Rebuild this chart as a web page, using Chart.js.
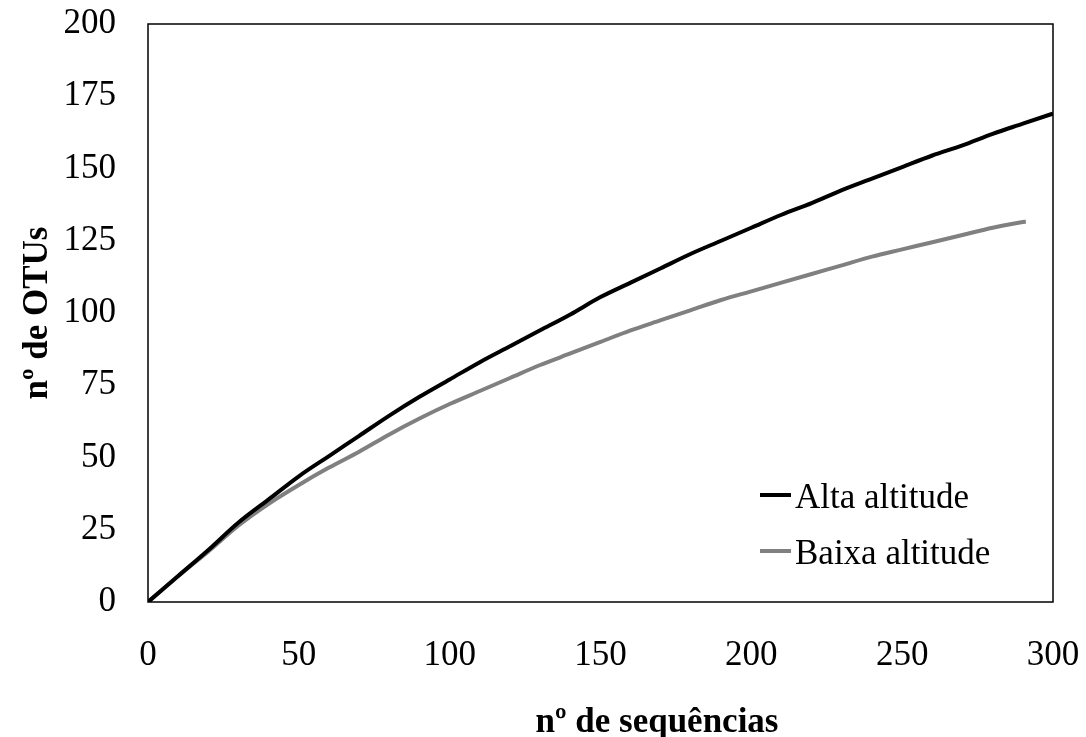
<!DOCTYPE html>
<html>
<head>
<meta charset="utf-8">
<script src="https://cdn.jsdelivr.net/npm/chart.js@4/dist/chart.umd.min.js"></script>
<style>
    body { margin: 0; background: #fff; }
    #wrap { width: 1086px; height: 737px; }
</style>
</head>
<body>
<div id="wrap"><canvas id="rarefChart" width="1086" height="737"></canvas></div>
<script>
// Rarefaction curves
const seqAlta = [0, 10, 20, 30, 40, 50, 60, 70, 80, 90, 100, 110, 120, 130, 140, 150,
    160, 170, 180, 190, 200, 210, 220, 230, 240, 250, 260, 270, 280, 290, 300];
const otusAlta = [0, 9, 18, 27.5, 35.5, 43.5, 50.5, 57.5, 64.5, 71, 77, 83, 88.5, 94, 99.5, 105.5,
    110.5, 115.5, 120.5, 125, 129.5, 134, 138, 142.5, 146.5, 150.5, 154.5, 158, 162, 165.5, 169];

const seqBaixa = [0, 10, 20, 30, 40, 50, 60, 70, 80, 90, 100, 110, 120, 130, 140, 150,
    160, 170, 180, 190, 200, 210, 220, 230, 240, 250, 260, 270, 280, 290, 291];
const otusBaixa = [0, 9, 17.5, 26.5, 34, 40.5, 46.5, 52, 58, 63.5, 68.5, 73, 77.5, 82, 86, 90,
    94, 97.5, 101, 104.5, 107.5, 110.5, 113.5, 116.5, 119.5, 122, 124.5, 127, 129.5, 131.5, 131.6];

const seriesLabels = ['Alta altitude', 'Baixa altitude'];
const seriesColors = ['#000000', '#808080'];

const xTitle = 'nº de sequências';
const yTitle = 'nº de OTUs';

const FONT = "'Liberation Serif', 'Times New Roman', serif";

function toPoints(xs, ys) {
    return xs.map((x, i) => ({x: x, y: ys[i]}));
}

// frame, legend and axis titles
const extras = {
    id: 'extras',
    afterDraw(chart) {
        const ctx = chart.ctx;
        const a = chart.chartArea;
        ctx.save();

        // box round the plot
        ctx.strokeStyle = '#000';
        ctx.lineWidth = 1.5;
        ctx.strokeRect(a.left, a.top, a.right - a.left, a.bottom - a.top);

        // legend inside the plot, bottom right
        ctx.font = '35px ' + FONT;
        ctx.textBaseline = 'middle';
        ctx.textAlign = 'left';
        chart.data.datasets.forEach((ds, i) => {
            const y = a.bottom - 107 + i * 56;
            const x0 = a.right - 293;
            ctx.strokeStyle = ds.borderColor;
            ctx.lineWidth = 4;
            ctx.beginPath();
            ctx.moveTo(x0, y);
            ctx.lineTo(x0 + 31, y);
            ctx.stroke();
            ctx.fillStyle = '#000';
            ctx.fillText(ds.label, x0 + 35, y + 4);
        });

        // axis titles
        ctx.font = 'bold 35px ' + FONT;
        ctx.fillStyle = '#000';
        ctx.textAlign = 'center';
        ctx.textBaseline = 'alphabetic';
        ctx.fillText(xTitle, 657, 732);

        ctx.translate(38, (a.top + a.bottom) / 2);
        ctx.rotate(-Math.PI / 2);
        ctx.textBaseline = 'middle';
        ctx.fillText(yTitle, 0, 0);
        ctx.restore();
    }
};

const ctx = document.getElementById('rarefChart').getContext('2d');
new Chart(ctx, {
    type: 'line',
    data: {
        datasets: [
            {
                label: seriesLabels[0],
                data: toPoints(seqAlta, otusAlta),
                borderColor: seriesColors[0],
                borderWidth: 4,
                pointRadius: 0,
                cubicInterpolationMode: 'monotone',
                fill: false
            },
            {
                label: seriesLabels[1],
                data: toPoints(seqBaixa, otusBaixa),
                borderColor: seriesColors[1],
                borderWidth: 4,
                pointRadius: 0,
                cubicInterpolationMode: 'monotone',
                fill: false
            }
        ]
    },
    options: {
        responsive: false,
        animation: false,
        events: [],
        layout: { padding: { top: 24, right: 33, left: 0, bottom: 0 } },
        plugins: {
            legend: { display: false },
            tooltip: { enabled: false }
        },
        scales: {
            x: {
                type: 'linear',
                min: 0,
                max: 300,
                grid: { display: false, drawTicks: false },
                border: { display: false },
                ticks: {
                    stepSize: 50,
                    padding: 33,
                    color: '#000',
                    font: { family: FONT, size: 35 }
                },
                afterFit(scale) {
                    scale.height = 135;
                    scale.paddingLeft = 0;
                    scale.paddingRight = 0;
                }
            },
            y: {
                min: 0,
                max: 200,
                grid: { display: false, drawTicks: false },
                border: { display: false },
                ticks: {
                    stepSize: 25,
                    padding: 32,
                    color: '#000',
                    font: { family: FONT, size: 35 }
                },
                afterFit(scale) {
                    scale.width = 148;
                    scale.paddingTop = 0;
                    scale.paddingBottom = 0;
                }
            }
        }
    },
    plugins: [extras]
});
</script>
</body>
</html>
